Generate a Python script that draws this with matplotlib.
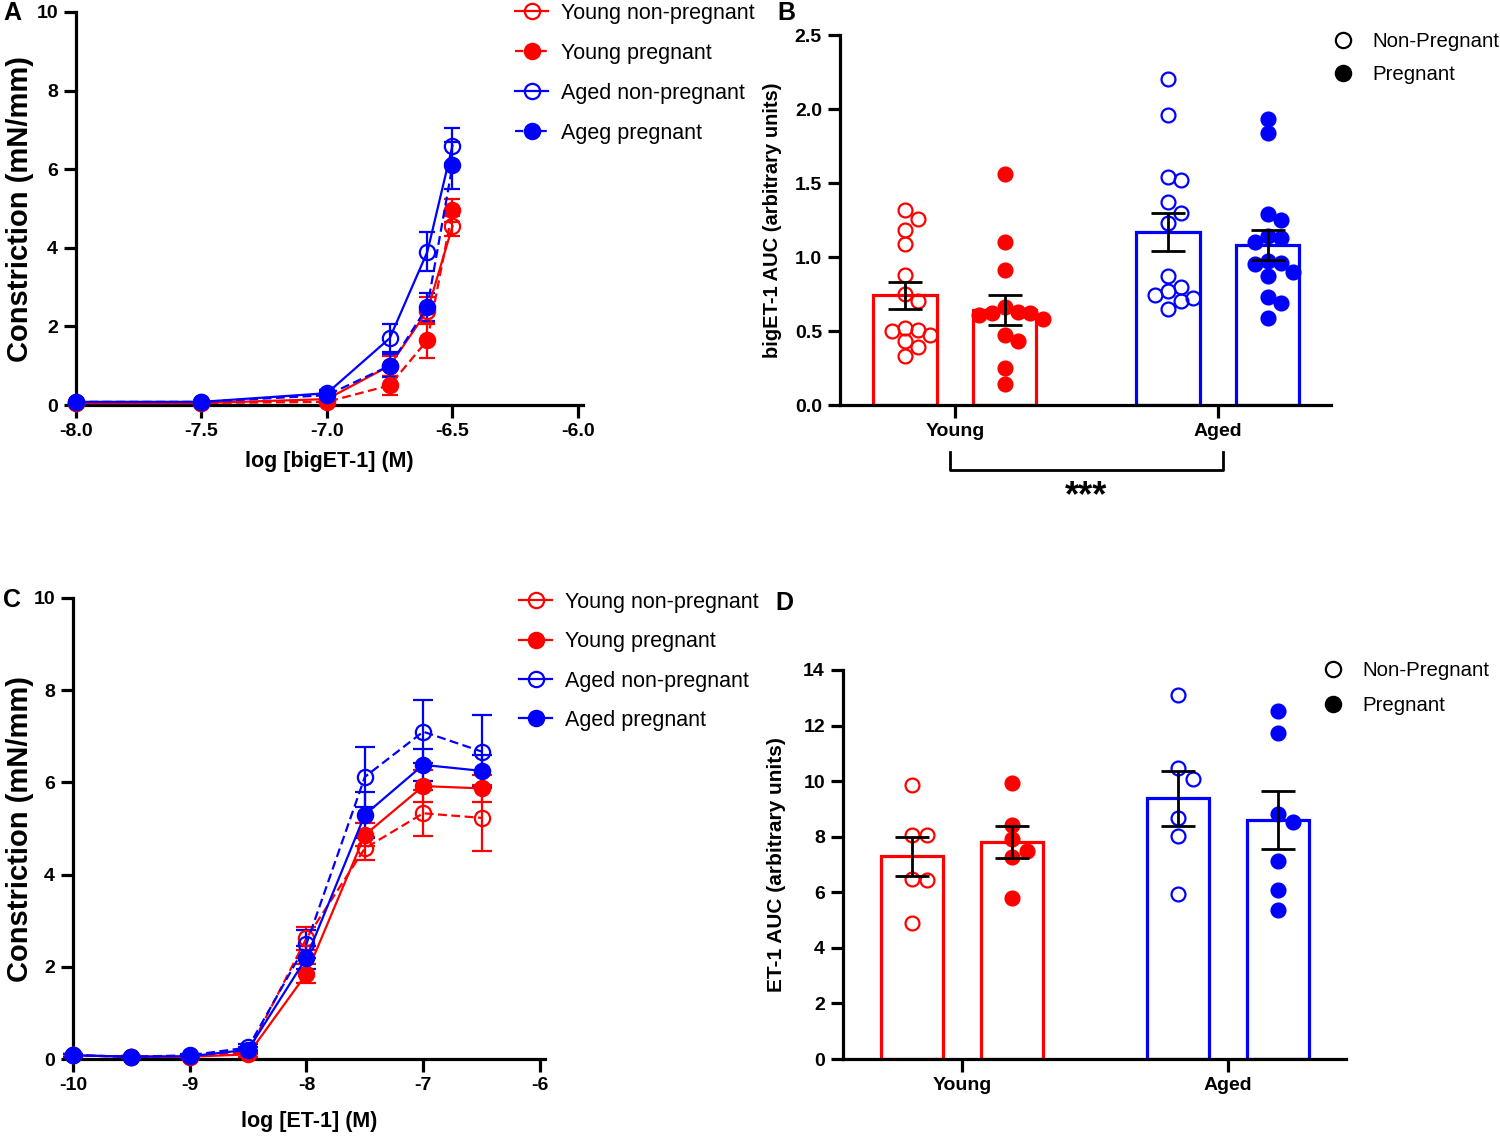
import matplotlib
matplotlib.use("Agg")
import matplotlib.pyplot as plt
from matplotlib.lines import Line2D
import numpy as np

plt.rcParams['font.family'] = ['Liberation Sans', 'DejaVu Sans']
plt.rcParams['axes.unicode_minus'] = False

RED = '#FF0000'
BLUE = '#0000FF'

# ---------------- Panel A data (bigET-1 concentration response) ----------------
a_x = [-8.0, -7.5, -7.0, -6.75, -6.6, -6.5]
a_ynp = [0.05, 0.05, 0.15, 1.00, 2.40, 4.55]
a_ynp_sem = [0.02, 0.02, 0.05, 0.25, 0.35, 0.25]
a_yp = [0.05, 0.05, 0.08, 0.50, 1.65, 4.95]
a_yp_sem = [0.02, 0.02, 0.03, 0.25, 0.45, 0.30]
a_anp = [0.08, 0.08, 0.30, 1.70, 3.90, 6.60]
a_anp_sem = [0.02, 0.03, 0.08, 0.35, 0.50, 0.45]
a_ap = [0.08, 0.08, 0.25, 1.00, 2.50, 6.10]
a_ap_sem = [0.02, 0.02, 0.06, 0.30, 0.35, 0.60]
a_labels = ['Young non-pregnant', 'Young pregnant', 'Aged non-pregnant', 'Ageg pregnant']
a_xticks = [-8.0, -7.5, -7.0, -6.5, -6.0]

# ---------------- Panel C data (ET-1 concentration response) ----------------
c_x = [-10, -9.5, -9, -8.5, -8, -7.5, -7, -6.5]
c_ynp = [0.08, 0.05, 0.05, 0.15, 2.62, 4.57, 5.33, 5.23]
c_ynp_sem = [0.03, 0.02, 0.03, 0.05, 0.25, 0.25, 0.50, 0.72]
c_yp = [0.08, 0.05, 0.05, 0.10, 1.85, 4.86, 5.92, 5.87]
c_yp_sem = [0.03, 0.02, 0.03, 0.05, 0.20, 0.25, 0.35, 0.30]
c_anp = [0.08, 0.05, 0.08, 0.25, 2.50, 6.12, 7.10, 6.67]
c_anp_sem = [0.03, 0.02, 0.03, 0.08, 0.30, 0.65, 0.68, 0.80]
c_ap = [0.08, 0.05, 0.06, 0.20, 2.20, 5.30, 6.38, 6.25]
c_ap_sem = [0.03, 0.02, 0.03, 0.06, 0.25, 0.50, 0.35, 0.35]
c_labels = ['Young non-pregnant', 'Young pregnant', 'Aged non-pregnant', 'Aged pregnant']
c_xticks = [-10, -9, -8, -7, -6]

# ---------------- Panel B data (bigET-1 AUC) ----------------
groups = ['Young', 'Aged']
b_ynp = [1.32, 1.26, 1.18, 1.09, 0.88, 0.75, 0.70, 0.52, 0.51, 0.50, 0.47, 0.43, 0.39, 0.33]
b_yp = [1.56, 1.10, 0.91, 0.66, 0.63, 0.62, 0.62, 0.61, 0.58, 0.47, 0.43, 0.25, 0.14]
b_anp = [2.20, 1.96, 1.54, 1.52, 1.37, 1.30, 1.23, 0.87, 0.80, 0.77, 0.74, 0.72, 0.70, 0.65]
b_ap = [1.93, 1.84, 1.29, 1.25, 1.14, 1.13, 1.10, 0.97, 0.96, 0.95, 0.90, 0.87, 0.73, 0.69, 0.59]
b_means = [0.74, 0.64, 1.17, 1.08]
b_sems = [0.09, 0.10, 0.13, 0.10]

# ---------------- Panel D data (ET-1 AUC) ----------------
d_ynp = [9.86, 8.05, 8.05, 6.49, 6.43, 4.89]
d_yp = [9.92, 8.41, 7.90, 7.48, 7.27, 5.79]
d_anp = [13.10, 10.46, 10.06, 8.68, 8.03, 5.93]
d_ap = [12.52, 11.74, 8.80, 8.53, 7.12, 6.07, 5.37]
d_means = [7.30, 7.80, 9.38, 8.60]
d_sems = [0.70, 0.57, 0.99, 1.04]

W, H = 1500, 1139
fig = plt.figure(figsize=(W / 100, H / 100), dpi=100)


def px_axes(l, t, r, b):
    return fig.add_axes([l / W, 1 - b / H, (r - l) / W, (b - t) / H])


def style_axes(ax, tick_fs=14):
    for s in ['top', 'right']:
        ax.spines[s].set_visible(False)
    for s in ['left', 'bottom']:
        ax.spines[s].set_linewidth(2.3)
    ax.tick_params(axis='both', width=2.3, length=9, labelsize=tick_fs, pad=4)
    for lab in ax.get_xticklabels() + ax.get_yticklabels():
        lab.set_fontweight('bold')


def set_ylabel_px(ax, text, size, x_px, ax_left_px, ax_width_px):
    ax.set_ylabel(text, fontsize=size, fontweight='bold')
    ax.yaxis.label.set_va('center')
    ax.yaxis.set_label_coords((x_px - ax_left_px) / ax_width_px, 0.5)


def curve_panel(ax, x, series, sems, colors, fills, styles, capsize):
    for y, e, c, f, ls in zip(series, sems, colors, fills, styles):
        ax.errorbar(x, y, yerr=e, color=c, lw=1.6, ls=ls, dashes=(4, 2) if ls == '--' else (None, None),
                    marker='o', ms=11, mew=1.6, mfc=(c if f else 'none'), mec=c,
                    capsize=capsize, elinewidth=1.6, capthick=1.6, clip_on=False, zorder=3)


# ======================== Panel A ========================
axA = px_axes(76, 12, 583, 405)
a_colors = [RED, RED, BLUE, BLUE]
a_fills = [False, True, False, True]
a_styles = ['-', '--', '-', '--']
curve_panel(axA, a_x, [a_ynp, a_yp, a_anp, a_ap], [a_ynp_sem, a_yp_sem, a_anp_sem, a_ap_sem],
            a_colors, a_fills, a_styles, 6)
axA.set_xlim(-8.0, -5.98)
axA.set_ylim(0, 10)
axA.set_xticks(a_xticks)
axA.set_xticklabels([f'{v:.1f}' for v in a_xticks])
axA.set_yticks([0, 2, 4, 6, 8, 10])
style_axes(axA)
axA.set_xlabel('log [bigET-1] (M)', fontsize=15.5, fontweight='bold', labelpad=8)
set_ylabel_px(axA, 'Constriction (mN/mm)', 21, 20, 76, 507)

hA = [Line2D([], [], color=c, ls=ls, lw=1.6, marker='o', ms=11, mew=1.6,
             mfc=(c if f else 'none'), mec=c) for c, f, ls in zip(a_colors, a_fills, a_styles)]
fig.legend(hA, a_labels, loc='upper left', bbox_to_anchor=(515 / W, 1 - 3 / H), frameon=False,
           fontsize=15.5, handlelength=1.55, handletextpad=0.6, labelspacing=0.88, borderpad=0,
           borderaxespad=0)

# ======================== Panel C ========================
axC = px_axes(73, 598, 545, 1059)
c_colors = [RED, RED, BLUE, BLUE]
c_fills = [False, True, False, True]
c_styles = ['--', '-', '--', '-']
curve_panel(axC, c_x, [c_ynp, c_yp, c_anp, c_ap], [c_ynp_sem, c_yp_sem, c_anp_sem, c_ap_sem],
            c_colors, c_fills, c_styles, 7)
axC.set_xlim(-10.0, -5.957)
axC.set_ylim(0, 10)
axC.set_xticks(c_xticks)
axC.set_yticks([0, 2, 4, 6, 8, 10])
style_axes(axC)
axC.set_xlabel('log [ET-1] (M)', fontsize=15.5, fontweight='bold', labelpad=12)
set_ylabel_px(axC, 'Constriction (mN/mm)', 21, 20, 73, 472)

hC = [Line2D([], [], color=c, ls='-', lw=1.6, marker='o', ms=11, mew=1.6,
             mfc=(c if f else 'none'), mec=c) for c, f in zip(c_colors, c_fills)]
fig.legend(hC, c_labels, loc='upper left', bbox_to_anchor=(519 / W, 1 - 592 / H), frameon=False,
           fontsize=15.5, handlelength=1.55, handletextpad=0.6, labelspacing=0.85, borderpad=0,
           borderaxespad=0)


# ======================== Bar panels ========================
def swarm_x(ax, center, values, diam_px, step_px):
    trans = ax.transData
    inv = trans.inverted()
    cx = trans.transform((center, 0))[0]
    placed = []
    xs = []
    order = [0, 1, -1, 2, -2, 3, -3, 4, -4, 5, -5, 6, -6]
    for v in values:
        yd = trans.transform((center, v))[1]
        xd = cx
        for k in order:
            xd = cx + k * step_px
            if all((xd - px) ** 2 + (yd - py) ** 2 >= (0.92 * diam_px) ** 2 for px, py in placed):
                break
        placed.append((xd, yd))
        xs.append(inv.transform((xd, yd))[0])
    return xs


def bar_panel(ax, means, sems, pts, offset, width, diam_px, step_px, ms):
    centers = [0 - offset, 0 + offset, 1 - offset, 1 + offset]
    colors = [RED, RED, BLUE, BLUE]
    fills = [False, True, False, True]
    ax.bar(centers, means, width=width, color='white', edgecolor=colors, linewidth=2.3, zorder=1)
    for c, vals, col, f in zip(centers, pts, colors, fills):
        xs = swarm_x(ax, c, vals, diam_px, step_px)
        ax.plot(xs, vals, ls='none', marker='o', ms=ms, mew=1.6, mec=col,
                mfc=(col if f else 'none'), zorder=3, clip_on=False)
    ax.errorbar(centers, means, yerr=sems, fmt='none', ecolor='black', elinewidth=2,
                capsize=12, capthick=2, zorder=4)
    ax.set_xticks([0, 1])
    ax.set_xticklabels(groups)


axB = px_axes(840, 35, 1331, 405)
axB.set_xlim(-0.437, 1.43)
axB.set_ylim(0, 2.5)
bar_panel(axB, b_means, b_sems, [b_ynp, b_yp, b_anp, b_ap], 0.19, 0.24, 13.5, 12.7, 10)
axB.set_xlim(-0.437, 1.43)
axB.set_ylim(0, 2.5)
axB.set_yticks([0.0, 0.5, 1.0, 1.5, 2.0, 2.5])
axB.set_yticklabels([f'{v:.1f}' for v in [0.0, 0.5, 1.0, 1.5, 2.0, 2.5]])
style_axes(axB)
set_ylabel_px(axB, 'bigET-1 AUC (arbitrary units)', 14.5, 772, 840, 491)
# significance bracket
axB.plot([-0.02, -0.02, 1.02, 1.02], [-0.32, -0.44, -0.44, -0.32], color='black', lw=2,
         clip_on=False)
axB.text(0.5, -0.50, '***', ha='center', va='top', fontsize=26, fontweight='bold')

axD = px_axes(843, 670, 1346, 1059)
axD.set_xlim(-0.447, 1.444)
axD.set_ylim(0, 14)
bar_panel(axD, d_means, d_sems, [d_ynp, d_yp, d_anp, d_ap], 0.188, 0.233, 13.5, 15, 10)
axD.set_xlim(-0.447, 1.444)
axD.set_ylim(0, 14)
axD.set_yticks([0, 2, 4, 6, 8, 10, 12, 14])
style_axes(axD)
set_ylabel_px(axD, 'ET-1 AUC (arbitrary units)', 15, 776, 843, 503)

# legends for bar panels
hB = [Line2D([], [], ls='none', marker='o', ms=11, mew=1.6, mec='black', mfc='none'),
      Line2D([], [], ls='none', marker='o', ms=11, mew=1.6, mec='black', mfc='black')]
fig.legend(hB, ['Non-Pregnant', 'Pregnant'], loc='upper left', bbox_to_anchor=(1333 / W, 1 - 32 / H),
           frameon=False, fontsize=14.7, handlelength=1.0, handletextpad=0.95, labelspacing=0.7,
           borderpad=0, borderaxespad=0)
fig.legend(hB, ['Non-Pregnant', 'Pregnant'], loc='upper left', bbox_to_anchor=(1323 / W, 1 - 661 / H),
           frameon=False, fontsize=14.7, handlelength=1.0, handletextpad=0.95, labelspacing=0.78,
           borderpad=0, borderaxespad=0)

# panel letters
for letter, (x, y) in zip('ABCD', [(3, 1), (777, 1), (3, 588), (775, 591)]):
    fig.text(x / W, 1 - y / H, letter, fontsize=18, fontweight='bold', ha='left', va='top')

fig.savefig('out.png', dpi=100)
